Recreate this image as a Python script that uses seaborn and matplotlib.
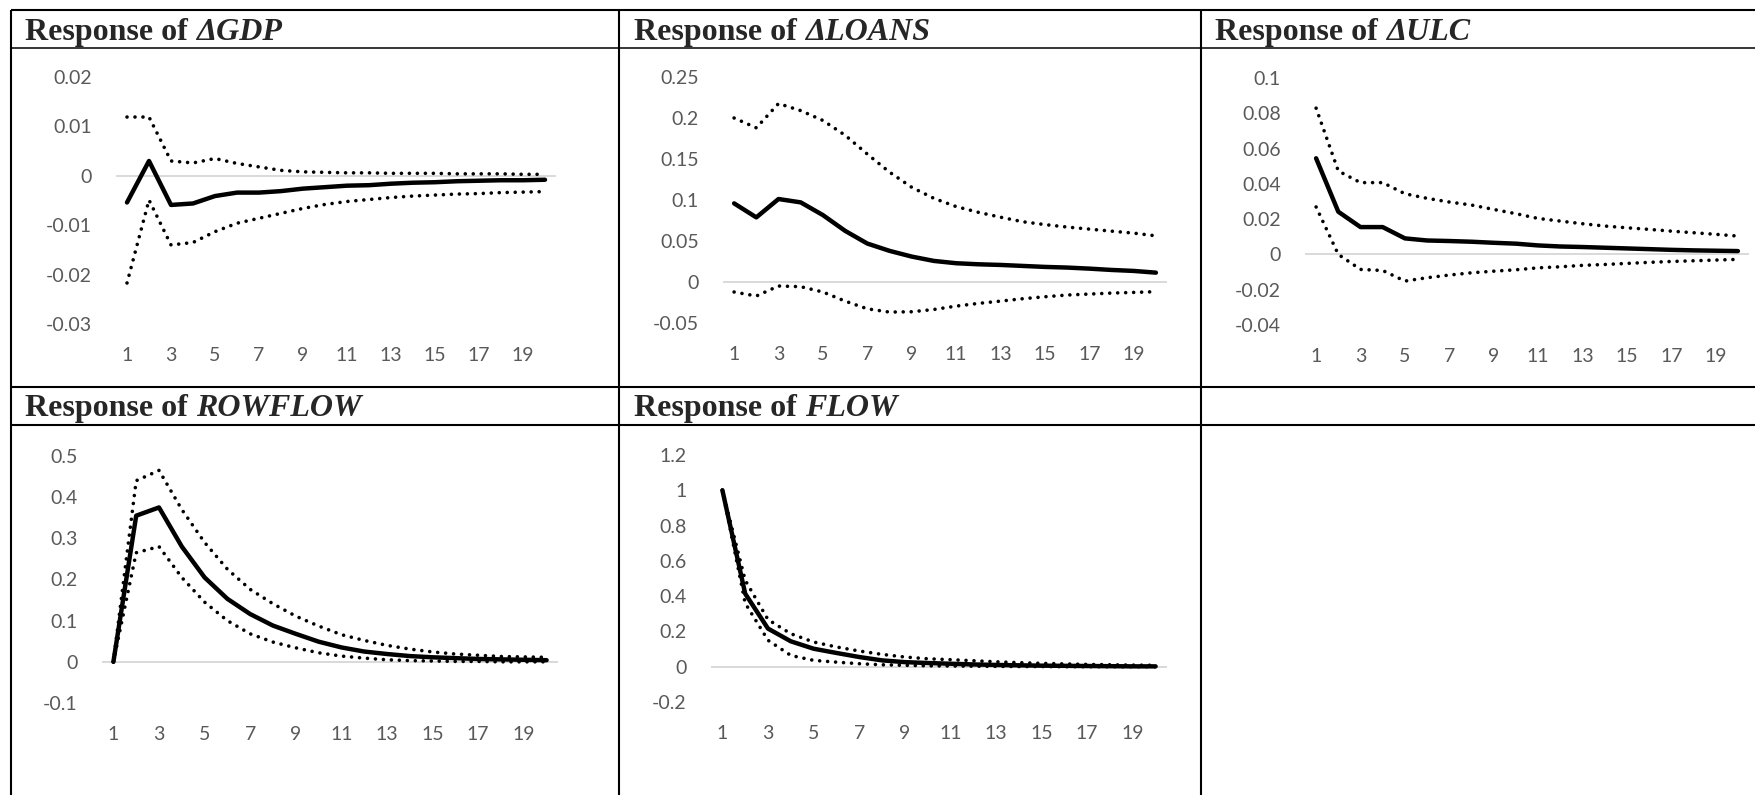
import numpy as np
import matplotlib
matplotlib.use("Agg")
import matplotlib.pyplot as plt
import seaborn as sns

# Impulse responses (periods 1..20)
periods = np.arange(1, 21)

gdp_mean = [-0.0054, 0.0030, -0.0059, -0.0056, -0.0041, -0.0034, -0.0034, -0.0031, -0.0026, -0.0023,
            -0.0020, -0.0019, -0.0016, -0.0014, -0.0013, -0.0011, -0.0010, -0.0009, -0.0009, -0.0008]
gdp_upper = [0.0119, 0.0119, 0.0030, 0.0026, 0.0035, 0.0025, 0.0018, 0.0011, 0.0008, 0.0007,
             0.0006, 0.0006, 0.0005, 0.0005, 0.0005, 0.0004, 0.0004, 0.0004, 0.0003, 0.0003]
gdp_lower = [-0.0217, -0.0049, -0.0140, -0.0135, -0.0113, -0.0096, -0.0086, -0.0076, -0.0066, -0.0058,
             -0.0052, -0.0048, -0.0044, -0.0041, -0.0039, -0.0037, -0.0036, -0.0034, -0.0033, -0.0032]

loans_mean = [0.0959, 0.0788, 0.1012, 0.0971, 0.0816, 0.0624, 0.0469, 0.0380, 0.0310, 0.0257,
              0.0229, 0.0216, 0.0208, 0.0196, 0.0184, 0.0176, 0.0163, 0.0147, 0.0135, 0.0114]
loans_upper = [0.200, 0.188, 0.2176, 0.209, 0.197, 0.179, 0.156, 0.134, 0.1155, 0.102,
               0.092, 0.085, 0.079, 0.0735, 0.070, 0.067, 0.0645, 0.062, 0.0596, 0.0563]
loans_lower = [-0.0122, -0.0171, -0.0049, -0.0057, -0.0122, -0.0233, -0.0327, -0.0367, -0.0363, -0.0335,
               -0.0294, -0.0261, -0.0233, -0.0204, -0.0180, -0.0159, -0.0147, -0.0135, -0.0127, -0.0118]

ulc_mean = [0.0545, 0.0242, 0.0155, 0.0155, 0.0091, 0.0079, 0.0076, 0.0072, 0.0066, 0.0061,
            0.0051, 0.0045, 0.0042, 0.0038, 0.0034, 0.0030, 0.0026, 0.0023, 0.0021, 0.0019]
ulc_upper = [0.0829, 0.0473, 0.0407, 0.0407, 0.0344, 0.0318, 0.0297, 0.0280, 0.0255, 0.0231,
             0.0204, 0.0189, 0.0174, 0.0161, 0.0151, 0.0142, 0.0132, 0.0123, 0.0114, 0.0104]
ulc_lower = [0.0269, 0.0000, -0.0085, -0.0091, -0.0151, -0.0132, -0.0117, -0.0104, -0.0095, -0.0087,
             -0.0076, -0.0070, -0.0062, -0.0057, -0.0051, -0.0045, -0.0040, -0.0036, -0.0032, -0.0028]

rowflow_mean = [0.0, 0.355, 0.375, 0.280, 0.205, 0.153, 0.116, 0.088, 0.068, 0.049,
                0.035, 0.025, 0.019, 0.014, 0.011, 0.009, 0.007, 0.006, 0.005, 0.004]
rowflow_upper = [0.0, 0.440, 0.465, 0.370, 0.290, 0.225, 0.176, 0.141, 0.111, 0.087,
                 0.066, 0.052, 0.040, 0.031, 0.024, 0.019, 0.016, 0.013, 0.012, 0.011]
rowflow_lower = [0.0, 0.265, 0.280, 0.205, 0.145, 0.100, 0.068, 0.048, 0.034, 0.022,
                 0.014, 0.009, 0.005, 0.003, 0.002, 0.001, 0.001, 0.0, 0.0, 0.0]

flow_mean = [1.0, 0.414, 0.216, 0.144, 0.102, 0.078, 0.055, 0.036, 0.026, 0.021,
             0.017, 0.013, 0.010, 0.008, 0.006, 0.005, 0.004, 0.003, 0.002, 0.002]
flow_upper = [1.0, 0.490, 0.267, 0.187, 0.140, 0.112, 0.089, 0.070, 0.055, 0.045,
              0.040, 0.034, 0.028, 0.023, 0.019, 0.016, 0.013, 0.011, 0.009, 0.008]
flow_lower = [1.0, 0.360, 0.150, 0.064, 0.036, 0.026, 0.017, 0.011, 0.008, 0.005,
              0.004, 0.003, 0.002, 0.001, 0.001, 0.0, 0.0, 0.0, 0.0, 0.0]

# tick labels
xtick_vals = [1, 3, 5, 7, 9, 11, 13, 15, 17, 19]
gdp_yticks = [-0.03, -0.02, -0.01, 0, 0.01, 0.02]
loans_yticks = [-0.05, 0, 0.05, 0.1, 0.15, 0.2, 0.25]
ulc_yticks = [-0.04, -0.02, 0, 0.02, 0.04, 0.06, 0.08, 0.1]
rowflow_yticks = [-0.1, 0, 0.1, 0.2, 0.3, 0.4, 0.5]
flow_yticks = [-0.2, 0, 0.2, 0.4, 0.6, 0.8, 1, 1.2]

names = ["\u0394GDP", "\u0394LOANS", "\u0394ULC", "ROWFLOW", "FLOW"]

W, H = 1756, 795
sns.set_style("white")
plt.rcParams["font.family"] = ["Lato", "DejaVu Sans"]

fig = plt.figure(figsize=(W / 100, H / 100), dpi=100)

# background axes in pixel coords for the table frame and headers
bg = fig.add_axes([0, 0, 1, 1])
bg.set_xlim(0, W)
bg.set_ylim(H, 0)
bg.axis("off")
lw_frame = 1.5
bg.hlines([10, 387, 425], 11, W, color="black", lw=lw_frame)
bg.hlines([48], 11, W, color="black", lw=1.1)
bg.vlines([11, 619, 1201], 10, H, color="black", lw=lw_frame)

header_pos = [(25, 40), (634, 40), (1215, 40), (25, 416), (634, 416)]
fig.canvas.draw()
rend = fig.canvas.get_renderer()
for (hx, hy), nm in zip(header_pos, names):
    t = bg.text(hx, hy, "Response of ", fontsize=23, fontweight="bold",
                family="Liberation Serif", va="baseline", ha="left")
    bb = t.get_window_extent(renderer=rend)
    bg.text(hx + bb.width, hy, nm, fontsize=23, fontweight="bold", fontstyle="italic",
            family="Liberation Serif", va="baseline", ha="left")

# panel boxes in pixels: left, right, top, bottom
panels = [
    ((116, 556, 77, 324), gdp_mean, gdp_upper, gdp_lower, gdp_yticks),
    ((723, 1167, 77, 323), loans_mean, loans_upper, loans_lower, loans_yticks),
    ((1305, 1749, 78, 325), ulc_mean, ulc_upper, ulc_lower, ulc_yticks),
    ((102, 558, 456, 703), rowflow_mean, rowflow_upper, rowflow_lower, rowflow_yticks),
    ((711, 1167, 455, 702), flow_mean, flow_upper, flow_lower, flow_yticks),
]

for (l, r, t, b), mean, up, lo, yt in panels:
    ax = fig.add_axes([l / W, 1 - b / H, (r - l) / W, (b - t) / H])
    ax.axhline(0, color="#d9d9d9", lw=1.4, zorder=1)
    sns.lineplot(x=periods, y=mean, ax=ax, color="black", linewidth=3.2, zorder=3)
    for band in (up, lo):
        sns.lineplot(x=periods, y=band, ax=ax, color="black", linewidth=2.6,
                     linestyle=(0, (0.01, 2.2)), dash_capstyle="round", zorder=4)
    ax.set_xlim(0.5, 20.5)
    ax.set_ylim(yt[0], yt[-1])
    ax.set_yticks(yt)
    ax.set_yticklabels([f"{v:g}" for v in yt])
    ax.set_xticks(xtick_vals)
    ax.set_xticklabels([str(v) for v in xtick_vals])
    ax.tick_params(axis="both", length=0, labelsize=14, labelcolor="#595959")
    ax.tick_params(axis="y", pad=17.5)
    ax.tick_params(axis="x", pad=16.5)
    for s in ax.spines.values():
        s.set_visible(False)
    ax.set_xlabel("")
    ax.set_ylabel("")
    ax.patch.set_alpha(0)

fig.savefig("out.png", dpi=100)
